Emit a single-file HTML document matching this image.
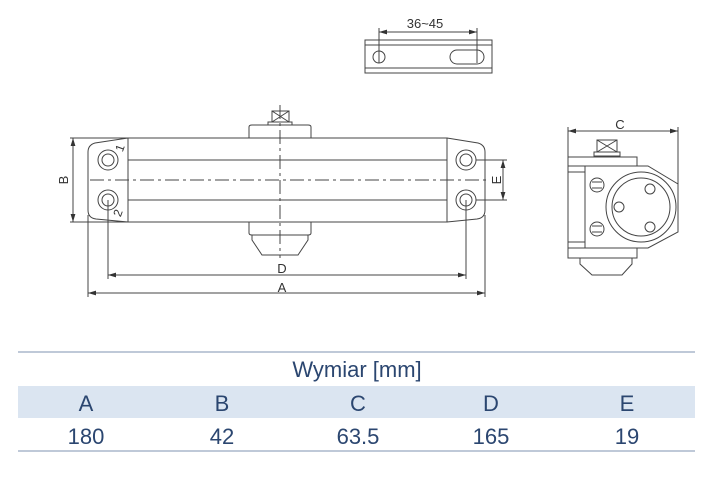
<!DOCTYPE html>
<html><head><style>
body{margin:0;background:#fff;}
svg{display:block}
.t{font-family:"Liberation Sans Narrow","Liberation Sans",sans-serif;fill:#2b4670;text-anchor:middle}
</style></head><body>
<svg width="713" height="477" viewBox="0 0 713 477" xmlns="http://www.w3.org/2000/svg">
<defs>
<marker id="a" viewBox="0 0 10 6" refX="10" refY="3" markerWidth="8" markerHeight="5" orient="auto-start-reverse"><path d="M0,0L10,3L0,6z" fill="#333"/></marker>
</defs>
<g fill="none" stroke="#444" stroke-width="1">
<rect x="365" y="40" width="127" height="33"/>
<line x1="365" y1="45" x2="492" y2="45"/><line x1="365" y1="68" x2="492" y2="68"/>
<circle cx="379" cy="57" r="6"/>
<rect x="450" y="50" width="34" height="14" rx="7"/>
<line x1="379" y1="28" x2="379" y2="63"/><line x1="477" y1="28" x2="477" y2="63"/>
<line x1="379" y1="32" x2="477" y2="32" marker-start="url(#a)" marker-end="url(#a)"/>
<path d="M128,138 L95,143 Q88,145 88,152 L88,210 Q88,218 96,219 L128,222"/>
<path d="M447,138 L478,143 Q485,145 485,152 L485,210 Q485,218 477,219 L447,222"/>
<rect x="128" y="138" width="319" height="84"/>
<line x1="128" y1="160" x2="447" y2="160"/><line x1="128" y1="200" x2="447" y2="200"/>
<circle cx="108" cy="160" r="10"/><circle cx="108" cy="160" r="6"/>
<circle cx="108" cy="200" r="10"/><circle cx="108" cy="200" r="6"/>
<circle cx="466" cy="160" r="10"/><circle cx="466" cy="160" r="6"/>
<circle cx="466" cy="200" r="10"/><circle cx="466" cy="200" r="6"/>
<path d="M249,138 L249,127 Q249,125 252,125 L308,125 Q311,125 311,127 L311,138"/>
<rect x="268" y="122" width="24" height="3"/>
<rect x="272" y="111" width="17" height="11"/>
<path d="M272,111 L289,122 M289,111 L272,122"/>
<path d="M249,222 L249,233 Q249,235 252,235 L308,235 Q311,235 311,233 L311,222"/>
<path d="M252,235 L252,240 L262,255 L298,255 L308,240 L308,235"/>
<g stroke-dasharray="14,4,3,4">
<line x1="90" y1="180" x2="490" y2="180"/>
<line x1="280" y1="105" x2="280" y2="258"/>
</g>
<line x1="70" y1="138" x2="128" y2="138"/><line x1="70" y1="222" x2="128" y2="222"/>
<line x1="73" y1="138" x2="73" y2="222" marker-start="url(#a)" marker-end="url(#a)"/>
<line x1="476" y1="160" x2="507" y2="160"/><line x1="476" y1="200" x2="507" y2="200"/>
<line x1="503" y1="160" x2="503" y2="200" marker-start="url(#a)" marker-end="url(#a)"/>
<line x1="108" y1="200" x2="108" y2="279"/><line x1="466" y1="200" x2="466" y2="279"/>
<line x1="108" y1="275" x2="466" y2="275" marker-start="url(#a)" marker-end="url(#a)"/>
<line x1="88" y1="215" x2="88" y2="297"/><line x1="485" y1="215" x2="485" y2="297"/>
<line x1="88" y1="293" x2="485" y2="293" marker-start="url(#a)" marker-end="url(#a)"/>
<line x1="568" y1="127" x2="568" y2="157"/><line x1="678" y1="127" x2="678" y2="184"/>
<line x1="568" y1="131" x2="678" y2="131" marker-start="url(#a)" marker-end="url(#a)"/>
<rect x="597" y="140" width="20" height="12"/>
<path d="M597,140 L617,152 M617,140 L597,152"/>
<rect x="594" y="152" width="26" height="4"/>
<rect x="568" y="157" width="69" height="9"/>
<rect x="568" y="166" width="17" height="82"/>
<line x1="568" y1="172" x2="585" y2="172"/><line x1="568" y1="242" x2="585" y2="242"/>
<path d="M585,166 L648,166 L678,184 L678,232 L648,248 L585,248"/>
<rect x="568" y="248" width="69" height="10"/>
<path d="M580,258 L580,264 L592,275 L622,275 L632,264 L632,258"/>
<circle cx="641" cy="207" r="35"/><circle cx="641" cy="207" r="29"/>
<circle cx="650" cy="189" r="5"/><circle cx="619" cy="207" r="5"/><circle cx="650" cy="227" r="5"/>
<circle cx="597" cy="185" r="7"/><circle cx="597" cy="229" r="7"/>
<line x1="592" y1="182" x2="602" y2="182"/><line x1="592" y1="188" x2="602" y2="188"/>
<line x1="592" y1="226" x2="602" y2="226"/><line x1="592" y1="232" x2="602" y2="232"/>
</g>
<g font-family="Liberation Sans,sans-serif" font-size="13" fill="#333" text-anchor="middle">
<text x="425" y="28">36~45</text>
<text x="282" y="273">D</text>
<text x="282" y="292">A</text>
<text x="620" y="129">C</text>
<text x="63" y="185" transform="rotate(-90 63 180)">B</text>
<text x="496" y="185" transform="rotate(-90 496 180)">E</text>
<text x="120" y="152" font-size="12" transform="rotate(-70 120 148)">1</text>
<text x="118" y="217" font-size="12" transform="rotate(-70 118 213)">2</text>
</g>
<line x1="18" y1="352" x2="695" y2="352" stroke="#7f93b0" stroke-width="1"/>
<rect x="18" y="386" width="677" height="32" fill="#dbe5f1"/>
<line x1="18" y1="451" x2="695" y2="451" stroke="#7f93b0" stroke-width="1"/>
<text class="t" x="357" y="377" font-size="22">Wymiar [mm]</text>
<g class="t" font-size="22">
<text x="86" y="411">A</text><text x="222" y="411">B</text><text x="358" y="411">C</text><text x="491" y="411">D</text><text x="627" y="411">E</text>
<text x="86" y="444">180</text><text x="222" y="444">42</text><text x="358" y="444">63.5</text><text x="491" y="444">165</text><text x="627" y="444">19</text>
</g>
</svg>
</body></html>
